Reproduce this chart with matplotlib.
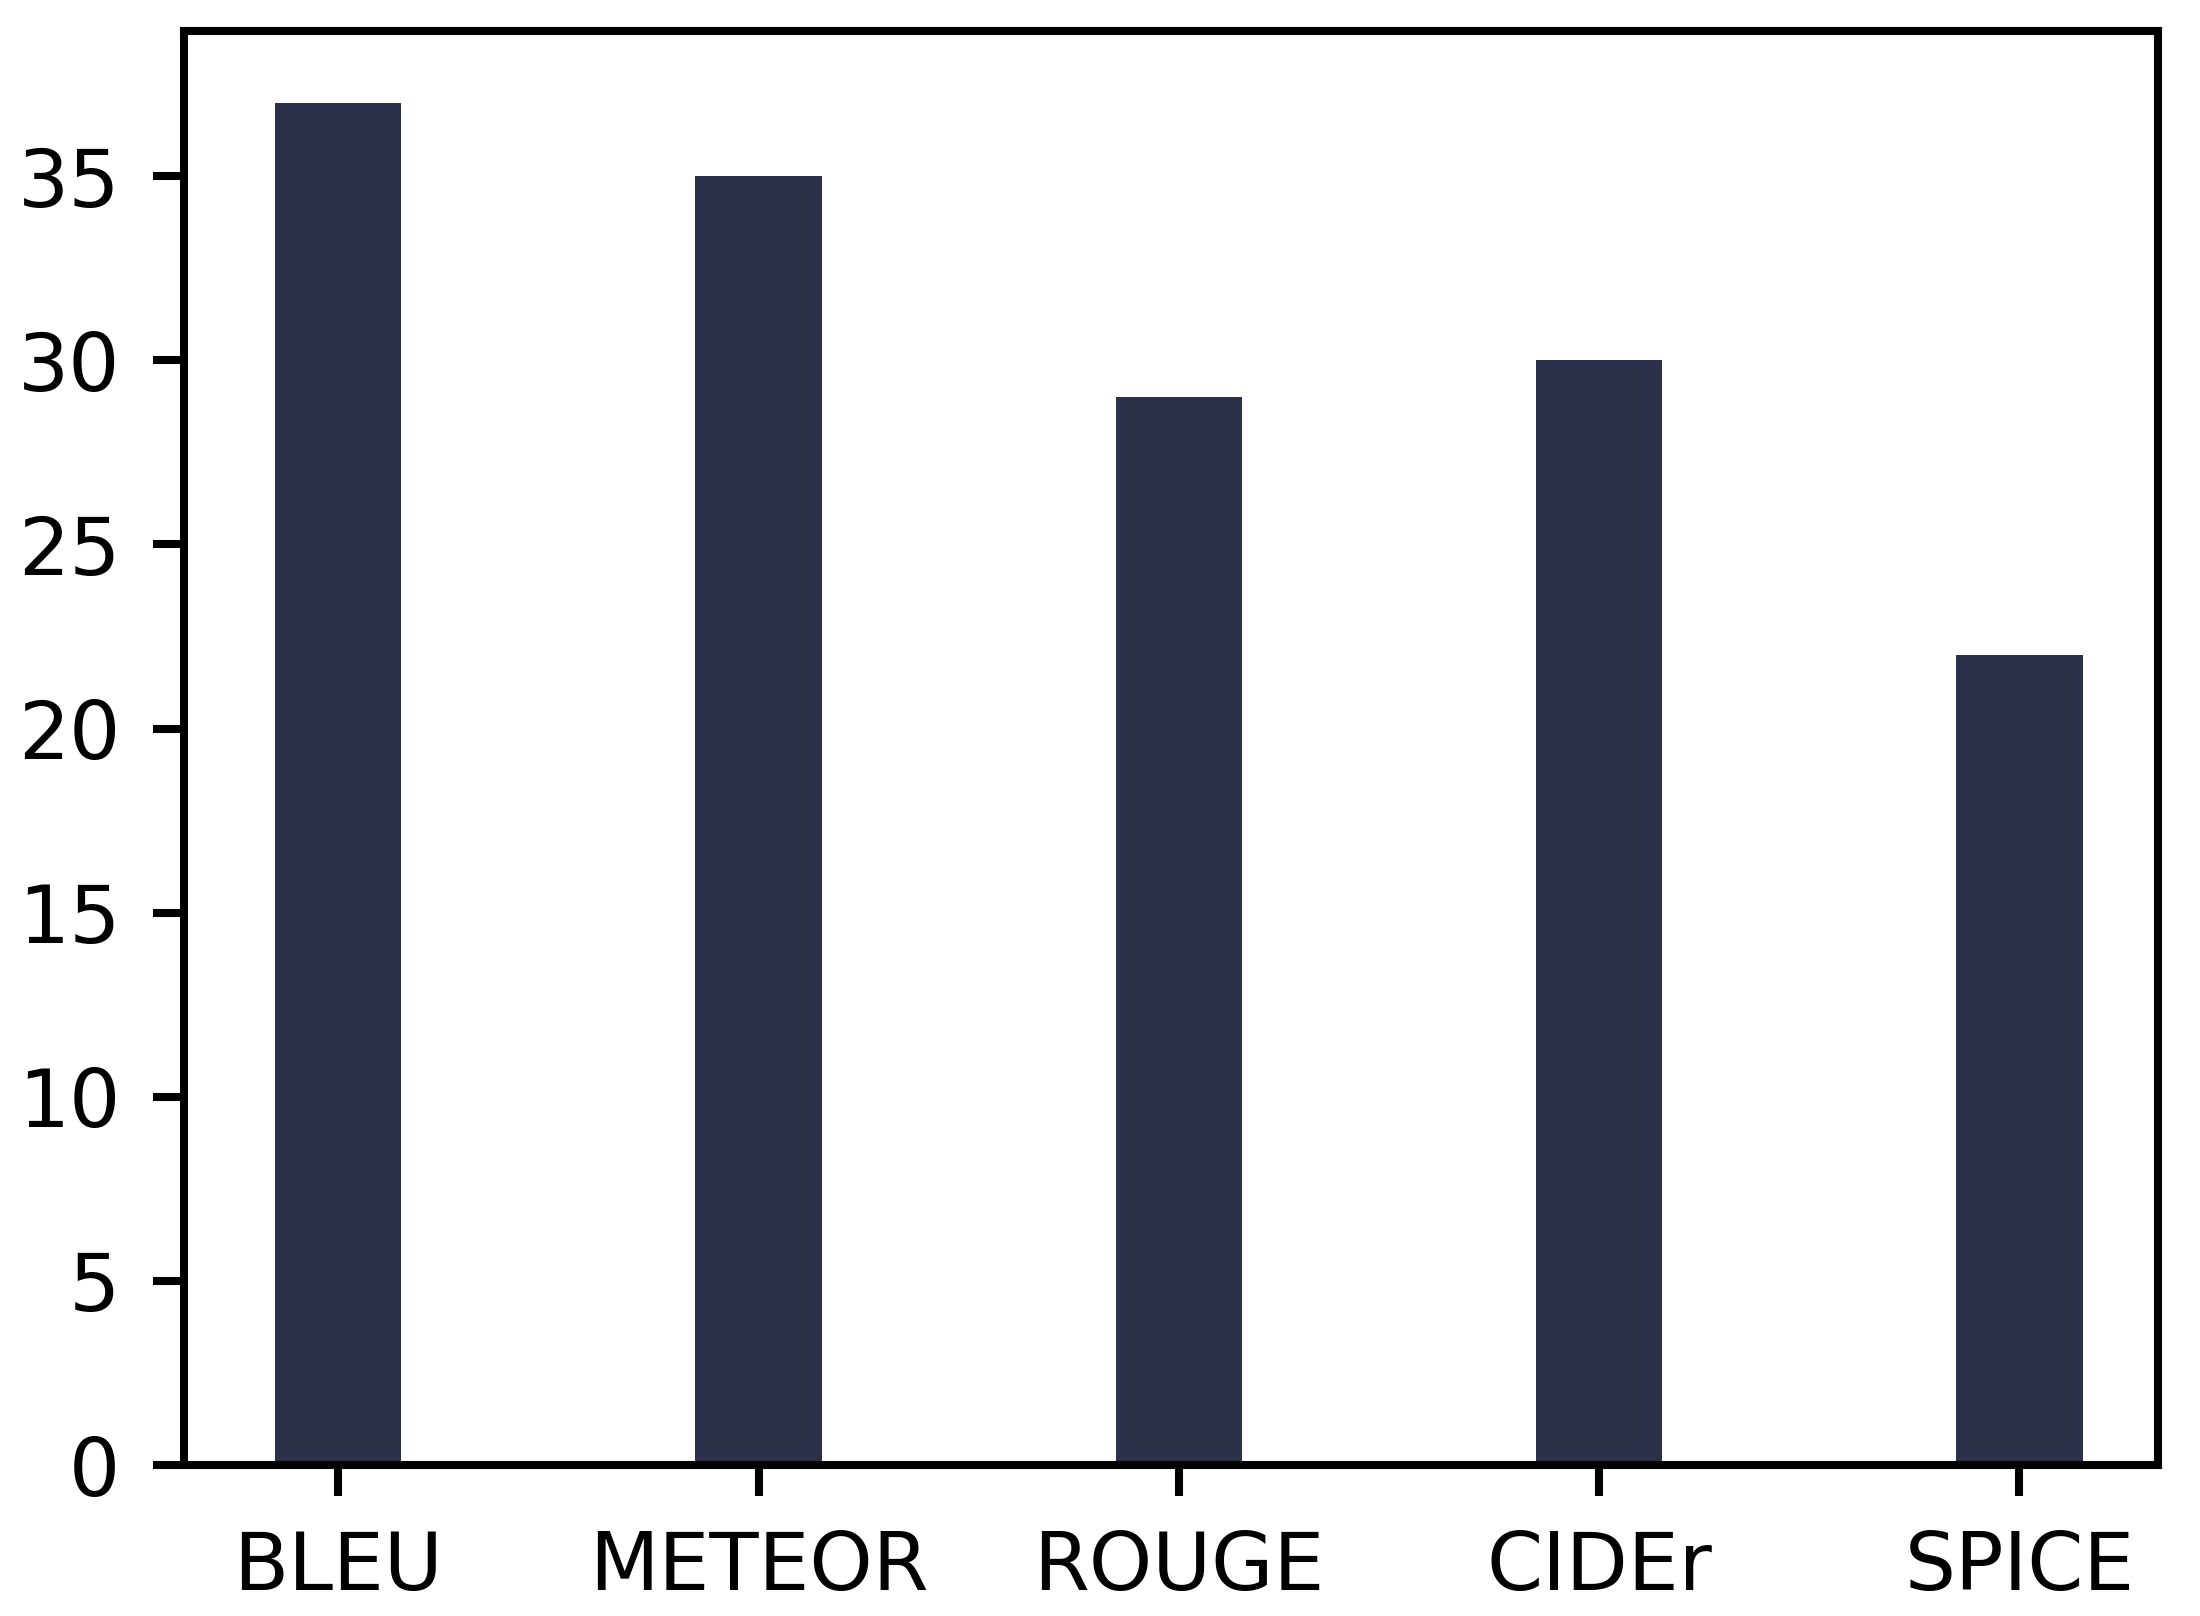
import matplotlib
matplotlib.use("Agg")
import matplotlib.pyplot as plt

# Scores per metric
metrics = ["BLEU", "METEOR", "ROUGE", "CIDEr", "SPICE"]
scores = [37, 35, 29, 30, 22]
yticks = [0, 5, 10, 15, 20, 25, 30, 35]

fig = plt.figure(figsize=(11, 8.08), dpi=200)
ax = fig.add_axes([0.0836, 0.0934, 0.8974, 0.8876])

ax.bar(range(len(metrics)), scores, width=0.3, color="#2a3149")
ax.set_xticks(range(len(metrics)))
ax.set_xticklabels(metrics)
ax.set_yticks(yticks)
ax.set_ylim(0, 38.95)
ax.set_xlim(-0.367, 4.33)

for s in ax.spines.values():
    s.set_linewidth(2.9)
ax.tick_params(axis="both", labelsize=29, length=11, width=2.9, pad=12)

fig.savefig("out.png", dpi=200)
